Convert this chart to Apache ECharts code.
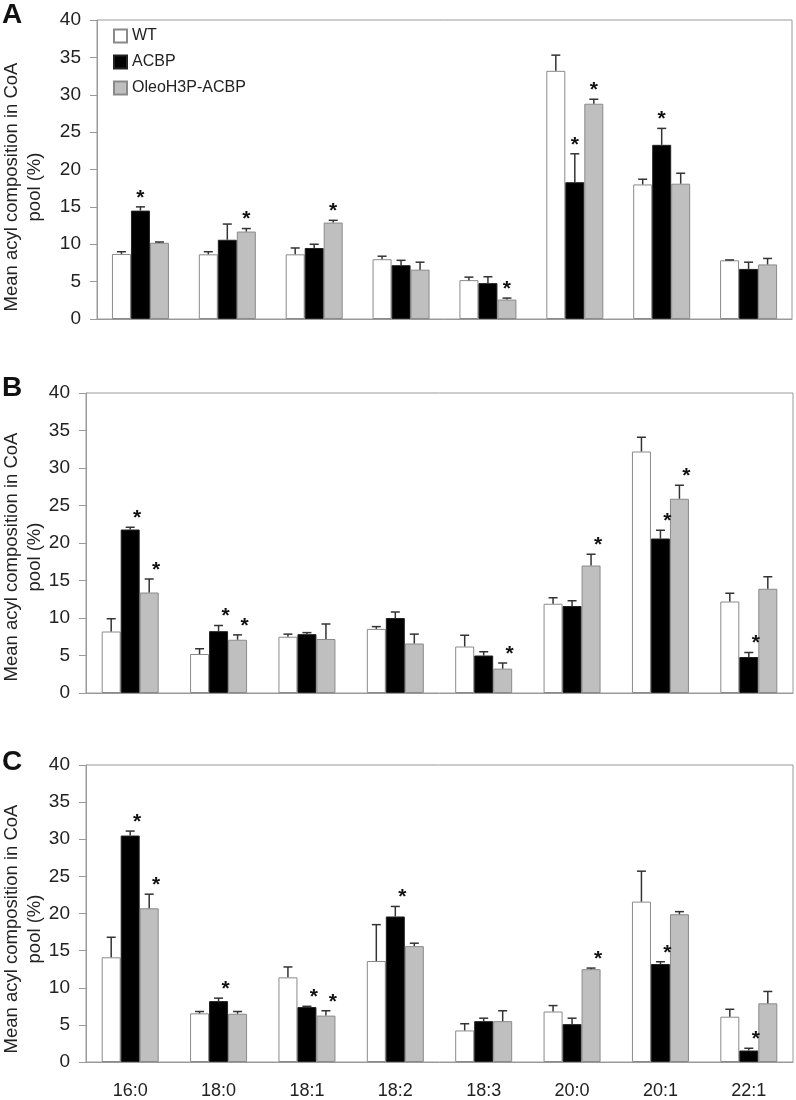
<!DOCTYPE html>
<html><head><meta charset="utf-8">
<script src="https://cdn.jsdelivr.net/npm/echarts@6/dist/echarts.min.js"></script>
<style>html,body{margin:0;padding:0;background:#fff}#c{width:796px;height:1100px}</style>
</head><body><div id="c"></div>
<script>
// ---------- data ----------
const categories = ['16:0','18:0','18:1','18:2','18:3','20:0','20:1','22:1'];
const seriesNames = ['WT','ACBP','OleoH3P-ACBP'];
const panelLetters = ['A','B','C'];
const yAxisTitle = 'Mean acyl composition in CoA\npool (%)';

// Panel A
const aWT       = [8.7, 8.65, 8.65, 8.0, 5.2, 33.2, 18.0, 7.85];
const aWTErr    = [0.3, 0.35, 0.85, 0.4, 0.4, 2.1, 0.7, 0.05];
const aACBP     = [14.5, 10.6, 9.5, 7.2, 4.8, 18.3, 23.3, 6.7];
const aACBPErr  = [0.5, 2.1, 0.5, 0.65, 0.85, 3.8, 2.2, 0.9];
const aOleo     = [10.2, 11.7, 12.9, 6.6, 2.6, 28.8, 18.1, 7.3];
const aOleoErr  = [0.1, 0.4, 0.3, 1.0, 0.2, 0.6, 1.4, 0.8];
const aWTSig    = [0,0,0,0,0,0,0,0];
const aACBPSig  = [1,0,0,0,0,1,1,0];
const aOleoSig  = [0,1,1,0,1,1,0,0];

// Panel B
const bWT       = [8.2, 5.2, 7.5, 8.55, 6.2, 11.9, 32.2, 12.2];
const bWTErr    = [1.7, 0.7, 0.35, 0.3, 1.5, 0.8, 1.9, 1.1];
const bACBP     = [21.8, 8.25, 7.85, 10.0, 5.0, 11.6, 20.6, 4.8];
const bACBPErr  = [0.3, 0.75, 0.2, 0.8, 0.5, 0.7, 1.1, 0.6];
const bOleo     = [13.4, 7.1, 7.2, 6.6, 3.25, 17.0, 25.9, 13.9];
const bOleoErr  = [1.8, 0.65, 2.0, 1.25, 0.75, 1.5, 1.8, 1.6];
const bWTSig    = [0,0,0,0,0,0,0,0];
const bACBPSig  = [1,1,0,0,0,0,1,1];
const bOleoSig  = [1,1,0,0,1,1,1,0];

// Panel C
const cWT       = [14.1, 6.55, 11.4, 13.6, 4.25, 6.8, 21.6, 6.1];
const cWTErr    = [2.7, 0.25, 1.4, 4.9, 0.9, 0.8, 4.1, 1.0];
const cACBP     = [30.5, 8.2, 7.4, 19.6, 5.5, 5.1, 13.2, 1.55];
const cACBPErr  = [0.6, 0.4, 0.1, 1.35, 0.4, 0.8, 0.3, 0.3];
const cOleo     = [20.7, 6.5, 6.25, 15.6, 5.5, 12.5, 19.9, 7.9];
const cOleoErr  = [1.9, 0.3, 0.65, 0.4, 1.4, 0.15, 0.35, 1.6];
const cWTSig    = [0,0,0,0,0,0,0,0];
const cACBPSig  = [1,1,1,1,0,0,1,1];
const cOleoSig  = [1,0,1,0,0,1,0,0];

// ---------- layout / style ----------
const FONT = 'Liberation Sans, Arial, sans-serif';
const BAR_W = 19;
const panels = [
  { grid:{left:97, top:20, width:695, height:299}, vals:[aWT,aACBP,aOleo], errs:[aWTErr,aACBPErr,aOleoErr], sigs:[aWTSig,aACBPSig,aOleoSig], starDx:0, showX:false, letterY:15, titleY:187 },
  { grid:{left:86, top:393, width:707, height:300}, vals:[bWT,bACBP,bOleo], errs:[bWTErr,bACBPErr,bOleoErr], sigs:[bWTSig,bACBPSig,bOleoSig], starDx:7, showX:false, letterY:388, titleY:557 },
  { grid:{left:86, top:765, width:707, height:299}, vals:[cWT,cACBP,cOleo], errs:[cWTErr,cACBPErr,cOleoErr], sigs:[cWTSig,cACBPSig,cOleoSig], starDx:7, showX:true, letterY:762, titleY:929 }
];
const barStyles = [
  {color:'#ffffff', borderColor:'#8a8a8a', borderWidth:1},
  {color:'#000000', borderColor:'#222222', borderWidth:1},
  {color:'#bfbfbf', borderColor:'#8a8a8a', borderWidth:1}
];

const grids=[], xAxes=[], yAxes=[], series=[], graphics=[];
panels.forEach((p, pi) => {
  grids.push(Object.assign({show:true, borderColor:'#9a9a9a', borderWidth:1, containLabel:false}, p.grid));
  xAxes.push({
    type:'category', gridIndex:pi, data:categories,
    axisLine:{show:true, lineStyle:{color:'#9a9a9a', width:1}},
    axisTick:{show:false},
    axisLabel:{show:p.showX, fontSize:18, color:'#222', fontFamily:FONT, margin:20},
    splitLine:{show:false}
  });
  yAxes.push({
    type:'value', gridIndex:pi, min:0, max:40, interval:5,
    axisLine:{show:true, lineStyle:{color:'#9a9a9a', width:1}},
    axisTick:{show:true, length:7, lineStyle:{color:'#9a9a9a'}},
    axisLabel:{fontSize:19, color:'#222', fontFamily:FONT, margin:16},
    splitLine:{show:false}
  });
  seriesNames.forEach((name, g) => {
    series.push({
      type:'bar', name:name, xAxisIndex:pi, yAxisIndex:pi,
      data:p.vals[g], barWidth:BAR_W, barGap:'0%', barCategoryGap:'0%',
      itemStyle:barStyles[g], silent:true, z:2
    });
  });
  seriesNames.forEach((name, g) => {
    const vals=p.vals[g], errs=p.errs[g], sigs=p.sigs[g];
    series.push({
      type:'custom', xAxisIndex:pi, yAxisIndex:pi, z:10, silent:true,
      data: vals.map((v,i)=>[i, v, errs[i], sigs[i]]),
      encode:{x:0, y:1},
      renderItem:(params, api) => {
        const i=api.value(0), v=api.value(1), e=api.value(2), s=api.value(3);
        const base=api.coord([i, v]);
        const top=api.coord([i, v+e]);
        const x=base[0] + (g-1)*BAR_W;
        const children=[];
        if (e>0) {
          children.push({type:'line', shape:{x1:x, y1:base[1], x2:x, y2:top[1]}, style:{stroke:'#333', lineWidth:1.5}});
          children.push({type:'line', shape:{x1:x-4.5, y1:top[1], x2:x+4.5, y2:top[1]}, style:{stroke:'#333', lineWidth:1.5}});
        }
        if (s) {
          children.push({type:'text', x:x+p.starDx, y:top[1]-9,
            style:{text:'*', fontSize:21, fontWeight:'bold', fontFamily:FONT, fill:'#111', align:'center', verticalAlign:'middle'}});
        }
        return {type:'group', children};
      }
    });
  });
  graphics.push({type:'text', left:2, top:p.letterY-14,
    style:{text:panelLetters[pi], fontSize:28, fontWeight:'bold', fontFamily:FONT, fill:'#111'}});
  graphics.push({type:'text', x:23, y:p.titleY, rotation:Math.PI/2,
    style:{text:yAxisTitle, fontSize:18.5, fontFamily:FONT, fill:'#222', align:'center', verticalAlign:'middle', lineHeight:23}});
});

const chart = echarts.init(document.getElementById('c'), null, {renderer:'canvas'});
chart.setOption({
  animation:false,
  backgroundColor:'#ffffff',
  grid:grids, xAxis:xAxes, yAxis:yAxes, series:series,
  legend:{
    data:seriesNames, orient:'vertical', left:108, top:23,
    itemWidth:13, itemHeight:13, itemGap:10, icon:'rect',
    textStyle:{fontSize:16, color:'#222', fontFamily:FONT}
  },
  graphic:graphics
});
</script>
</body></html>
